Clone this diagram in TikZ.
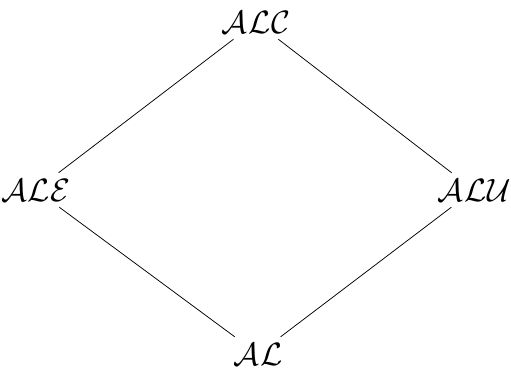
\documentclass[tikz,border=0pt]{standalone}
\usepackage{mathpazo}
\begin{document}
\begin{tikzpicture}[x=1pt,y=-1pt,
  lbl/.style={inner xsep=8pt, inner ysep=6pt, font=\fontsize{31}{33}\selectfont},
  edge/.style={draw=black, line width=0.75pt}]
\useasboundingbox (0,0) rectangle (511,376);
\node[lbl] (alc) at (256,22) {$\mathcal{ALC}$};
\node[lbl] (ale) at (36,190) {$\mathcal{ALE}$};
\node[lbl] (alu) at (474,190) {$\mathcal{ALU}$};
\node[lbl] (al) at (258,354) {$\mathcal{AL}$};
\draw[edge] (alc) -- (ale);
\draw[edge] (alc) -- (alu);
\draw[edge] (ale) -- (al);
\draw[edge] (alu) -- (al);
\end{tikzpicture}
\end{document}
